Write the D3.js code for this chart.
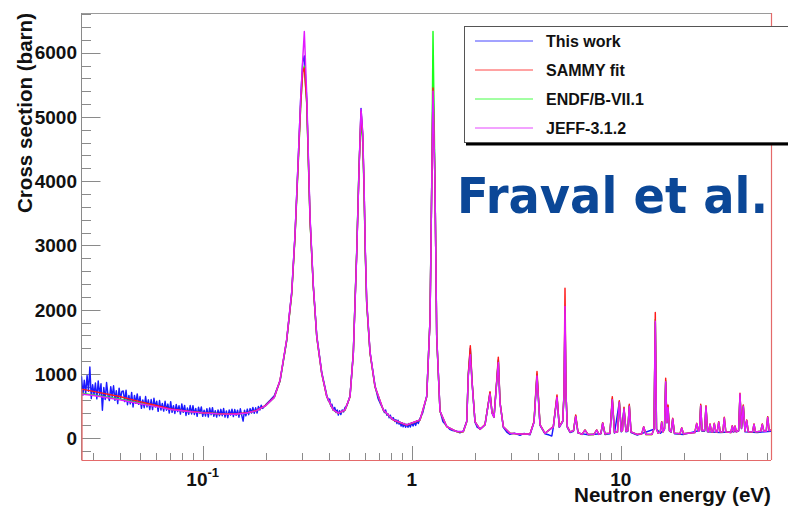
<!DOCTYPE html>
<html>
<head>
<meta charset="utf-8">
<script src="https://cdn.jsdelivr.net/npm/d3@7"></script>
<style>
  html, body { margin: 0; padding: 0; background: #fff; }
  svg { display: block; }
</style>
</head>
<body>
<svg id="chart" width="788" height="506"></svg>
<script>
// ---- Neutron energy grid (eV) shared by the evaluated curves ----
const energy = [
  0.0263, 0.03, 0.04, 0.05, 0.06, 0.07, 0.085, 0.1, 0.12, 0.14, 0.16, 0.18, 0.2, 0.22,
  0.2344, 0.2522, 0.2666, 0.2764, 0.2867, 0.2944, 0.301, 0.3063, 0.3145, 0.3262, 0.3382, 0.3512, 0.371, 0.3921, 0.4214, 0.4455,
  0.4796, 0.5067, 0.5255, 0.5455, 0.5596, 0.5721, 0.5829, 0.5913, 0.5998, 0.609, 0.6318, 0.6674, 0.7311, 0.8166, 0.9464,
  1.0957, 1.1797, 1.2235, 1.2466, 1.2644, 1.2926, 1.317, 1.3658, 1.4707, 1.6418,
  1.7655, 1.8331, 1.8655, 1.9072, 1.9431, 2.0085, 2.1222, 2.2424, 2.3254, 2.3693, 2.4222, 2.4763, 2.5509, 2.5966, 2.6455, 2.7436,
  2.9532, 3.2977, 3.6813, 3.8475, 3.9765, 4.1106, 4.3431, 4.7588, 4.9566, 5.0837, 5.2784, 5.3543, 5.4137, 5.4738, 5.5525, 5.7199,
  5.9457, 6.0911, 6.2471, 6.5283, 6.7484, 6.974, 7.449, 7.6754, 7.8727, 8.0468, 8.2, 8.4103, 8.8862, 9.1146, 9.3374, 9.6535, 9.8469, 10.067,
  10.2, 10.37, 10.602, 10.815, 10.993, 11.202, 11.967, 12.618, 12.882, 13.214, 14.117, 14.43, 14.64, 14.834, 15.082, 15.47, 15.711,
  15.937, 16.201, 16.415, 16.635, 16.835, 17.116, 17.439, 17.73, 18.085, 19.217, 19.583, 19.975, 22.622, 23.1, 23.589, 23.823,
  24.143, 24.49, 25.199, 25.591, 26.02, 26.309, 26.749, 27.222, 27.588, 28.045, 28.514, 28.958, 29.443, 29.936, 30.804, 31.318,
  31.842, 33.634, 34.198, 34.69, 35.23, 35.779, 36.654, 37.224, 37.844, 38.604, 39.332, 40.079, 40.789, 42.719, 43.432, 44.157,
  46.804, 47.587, 48.384, 49.682, 50.503, 51.348, 52.377
];

// ---- Capture cross sections (barn) on the grid above ----
const sammyFit = [
  765, 730, 650, 570, 510, 455, 420, 398, 382, 378, 392, 430, 510, 640,
  900, 1530, 2250, 3140, 4330, 5200, 5700, 5760, 5230, 3400, 2360, 1580, 1010, 650, 440, 390,
  440, 648, 1320, 2880, 4180, 5080, 4700, 3920, 2890, 2110, 1330, 800, 440, 285, 207,
  285, 648, 1840, 3920, 5450, 3920, 1580, 420, 181, 103,
  103, 260, 1000, 1440, 900, 259, 140, 212, 545, 726, 400, 330, 900, 1262, 560, 181,
  78, 66, 66, 260, 1038, 212, 78, 181, 675, 181, 270, 700, 2336, 700, 181, 100,
  120, 363, 90, 60, 130, 60, 60, 130, 60, 80, 243, 70, 80, 648, 90, 100, 586, 110,
  120, 483, 110, 120, 529, 100, 60, 70, 181, 60, 60, 150, 1957, 150, 80, 100, 259,
  100, 150, 934, 250, 519, 120, 100, 311, 80, 70, 165, 70, 90, 233, 110, 130,
  529, 120, 120, 508, 110, 100, 223, 100, 100, 233, 100, 100, 259, 100, 100, 326,
  100, 90, 197, 100, 192, 100, 120, 700, 160, 519, 110, 285, 100, 100, 223, 100,
  110, 223, 110, 110, 337, 120, 130
];

const endf = [
  700, 675, 610, 545, 497, 450, 418, 396, 381, 376, 390, 428, 508, 636,
  895, 1520, 2240, 3120, 4300, 5180, 5720, 5790, 5200, 3380, 2350, 1575, 1005, 648, 438, 388,
  438, 645, 1330, 2920, 4230, 4950, 4600, 3850, 2850, 2090, 1320, 798, 438, 284, 206,
  283, 640, 1850, 4000, 6330, 3980, 1570, 418, 180, 102,
  102, 255, 980, 1360, 880, 255, 138, 210, 535, 700, 395, 326, 880, 1200, 550, 179,
  77, 65, 65, 255, 1000, 210, 77, 179, 650, 180, 265, 680, 1850, 690, 180, 99,
  119, 350, 89, 60, 128, 60, 60, 128, 60, 79, 238, 70, 79, 620, 89, 99, 570, 109,
  119, 470, 109, 119, 515, 99, 60, 70, 178, 60, 60, 148, 1850, 148, 80, 99, 254,
  99, 148, 900, 246, 505, 119, 99, 304, 79, 70, 162, 70, 89, 228, 109, 129,
  515, 119, 119, 495, 109, 99, 218, 99, 99, 228, 99, 99, 253, 99, 99, 318,
  99, 89, 193, 99, 188, 99, 119, 680, 158, 505, 109, 278, 99, 99, 218, 99,
  109, 218, 109, 109, 330, 119, 129
];

const jeff = [
  690, 665, 600, 538, 492, 447, 416, 395, 380, 375, 389, 427, 507, 635,
  905, 1540, 2270, 3170, 4380, 5300, 5900, 6330, 5350, 3450, 2380, 1590, 1015, 652, 441, 391,
  441, 650, 1310, 2860, 4170, 5120, 4760, 3990, 2940, 2140, 1345, 806, 442, 286, 208,
  286, 650, 1830, 3900, 5400, 3940, 1600, 424, 182, 104,
  104, 258, 960, 1300, 870, 256, 139, 211, 530, 690, 392, 325, 860, 1180, 545, 180,
  78, 66, 66, 250, 970, 208, 78, 178, 640, 178, 262, 670, 2050, 680, 179, 100,
  120, 340, 90, 61, 126, 61, 61, 126, 61, 80, 235, 71, 80, 600, 90, 100, 560, 110,
  120, 460, 110, 120, 500, 100, 61, 71, 175, 61, 61, 145, 1820, 146, 81, 100, 250,
  100, 146, 880, 244, 480, 120, 100, 300, 80, 71, 160, 71, 90, 226, 110, 130,
  505, 120, 120, 490, 110, 100, 215, 100, 100, 225, 100, 100, 250, 100, 100, 315,
  100, 90, 190, 100, 186, 100, 120, 690, 158, 500, 110, 275, 100, 100, 215, 100,
  110, 215, 110, 110, 325, 120, 130
];

// ---- Measured data ("This work") ----
// Low-energy time-of-flight bins: equal width in log(E), starting at thisWorkLowStart
const thisWorkLowStart = 0.0263;
const thisWorkBinsPerDecade = 150;
const thisWorkLow = [
  966, 671, 903, 693, 976, 732, 1110, 618, 833, 674,
  860, 613, 892, 675, 848, 437, 790, 603, 867, 665,
  588, 803, 641, 817, 590, 740, 539, 780, 618, 728,
  737, 570, 748, 523, 667, 535, 713, 488, 666, 544,
  690, 528, 649, 465, 597, 476, 650, 487, 598, 446,
  602, 446, 622, 485, 576, 420, 587, 440, 541, 424,
  576, 437, 532, 393, 569, 403, 507, 386, 526, 415,
  506, 376, 534, 404, 511, 355, 471, 374, 509, 379,
  508, 370, 464, 342, 484, 386, 488, 342, 436, 346,
  461, 332, 473, 367, 477, 341, 430, 331, 442, 350,
  450, 351, 463, 329, 426, 321, 439, 361, 452, 339,
  447, 358, 437, 328, 459, 357, 267, 438, 348, 454,
  367, 462, 392, 481, 389, 474, 393, 494, 440, 514, 464
];
// Resonance region: [energy (eV), cross section (barn)]
const thisWorkHigh = [
  [0.2, 520], [0.21, 590], [0.22, 660], [0.2344, 890], [0.2522, 1520], [0.2666, 2280], [0.2764, 3160],
  [0.2867, 4380], [0.2944, 5300], [0.301, 5850], [0.3063, 5950], [0.3145, 5280], [0.3262, 3420],
  [0.3382, 2370], [0.3512, 1600], [0.371, 1030], [0.3921, 670], [0.4, 580], [0.405, 610], [0.41, 500],
  [0.415, 530], [0.4214, 440], [0.428, 480], [0.435, 400], [0.44, 440], [0.4455, 360], [0.452, 430],
  [0.458, 370], [0.465, 440], [0.472, 410], [0.4796, 480], [0.49, 510],
  [0.5067, 660], [0.5255, 1330], [0.5455, 2890], [0.5596, 4200], [0.5721, 5130], [0.5829, 4720],
  [0.5913, 3930], [0.5998, 2900], [0.609, 2120], [0.6318, 1340], [0.6674, 820], [0.69, 620], [0.71, 530],
  [0.7311, 450], [0.74, 400], [0.75, 440], [0.76, 360], [0.77, 380], [0.78, 320], [0.79, 360], [0.8, 300],
  [0.8166, 320], [0.83, 260], [0.84, 290], [0.85, 230], [0.86, 280], [0.87, 220], [0.88, 250], [0.89, 190],
  [0.9, 240], [0.91, 180], [0.92, 230], [0.935, 170], [0.9464, 220], [0.96, 170], [0.97, 230], [0.985, 175],
  [1.0, 240], [1.015, 190], [1.03, 250], [1.045, 200], [1.06, 270], [1.075, 230],
  [1.0957, 310], [1.13, 400], [1.1797, 660], [1.2235, 1850], [1.2466, 3930], [1.2644, 5600], [1.2926, 3930],
  [1.317, 1590], [1.3658, 430], [1.41, 260], [1.4707, 190], [1.52, 140], [1.57, 120], [1.6418, 110],
  [1.7, 85], [1.7655, 115], [1.8331, 265], [1.8655, 990], [1.9072, 1400], [1.9431, 900], [2.0085, 250],
  [2.06, 170], [2.1222, 150], [2.18, 170], [2.2424, 210], [2.3254, 540], [2.3693, 710], [2.4222, 400],
  [2.4763, 330], [2.5509, 880], [2.5966, 1220], [2.6455, 560], [2.7436, 170], [2.85, 95], [2.9532, 60],
  [3.1, 80], [3.2977, 45], [3.45, 75], [3.6813, 55], [3.8475, 250], [3.9765, 980], [4.1106, 200],
  [4.3431, 70], [4.55, 50], [4.68, 35], [4.7588, 170], [4.9566, 640], [5.0837, 170], [5.2784, 260],
  [5.3543, 680], [5.4137, 2000], [5.4738, 680], [5.5525, 170], [5.7199, 90], [5.9457, 110], [6.0911, 340],
  [6.2471, 80], [7.0, 55], [8.0468, 70], [8.2, 230], [8.4103, 60], [8.8862, 70], [9.1146, 600], [9.3374, 80],
  [9.8469, 560], [10.067, 100], [10.37, 460], [10.602, 100], [10.815, 110], [10.993, 500], [11.202, 90],
  [12.0, 50], [14.43, 140], [14.64, 1800], [14.834, 140], [15.5, 80], [16.2, 140], [16.415, 870],
  [16.635, 240], [16.835, 480], [17.116, 110], [17.439, 95], [17.73, 290], [18.085, 70], [20.0, 60],
  [23.823, 120], [24.143, 500], [24.49, 110], [25.199, 110], [25.591, 480], [26.02, 100], [30.0, 90],
  [36.654, 110], [37.224, 660], [37.844, 150], [38.604, 490], [39.332, 100], [45.0, 90], [52.377, 110]
];

// ---- Axes and legend text ----
const energyDomain = [0.0263, 52.38];
const sigmaDomain = [-338, 6617];
const yTickLabels = [0, 1000, 2000, 3000, 4000, 5000, 6000];
const yMinorStep = 200;
const xTickLabels = [
  { value: 0.1, base: "10", exp: "-1" },
  { value: 1, base: "1", exp: "" },
  { value: 10, base: "10", exp: "" }
];
const seriesNames = ["This work", "SAMMY fit", "ENDF/B-VII.1", "JEFF-3.1.2"];
const seriesColors = ["#1a1aff", "#ff1a1a", "#1aff1a", "#e21aff"];

// ---- Build the point sets ----
const thisWorkPoints = thisWorkLow
  .map((v, i) => [thisWorkLowStart * Math.pow(10, i / thisWorkBinsPerDecade), v])
  .concat(thisWorkHigh);
const pairs = vals => energy.map((e, i) => [e, vals[i]]);
const series = [
  { name: seriesNames[0], color: seriesColors[0], points: thisWorkPoints },
  { name: seriesNames[2], color: seriesColors[2], points: pairs(endf) },
  { name: seriesNames[1], color: seriesColors[1], points: pairs(sammyFit) },
  { name: seriesNames[3], color: seriesColors[3], points: pairs(jeff) }
];

// ---- Frame geometry ----
const frameL = 81.5, frameR = 771, frameT = 13, frameB = 460;
const font = "'Liberation Sans', Arial, Helvetica, sans-serif";

const svg = d3.select("#chart");
const x = d3.scaleLog().domain(energyDomain).range([frameL, frameR]);
const y = d3.scaleLinear().domain(sigmaDomain).range([frameB, frameT]);

svg.append("defs").append("clipPath").attr("id", "plot-clip")
  .append("rect").attr("x", frameL).attr("y", frameT)
  .attr("width", frameR - frameL).attr("height", frameB - frameT);

// frame: top edge and left axis line
svg.append("line").attr("x1", frameL).attr("x2", frameR).attr("y1", frameT + 0.5).attr("y2", frameT + 0.5)
  .attr("stroke", "#9a9a9a").attr("stroke-width", 1);
svg.append("line").attr("x1", frameL).attr("x2", frameL).attr("y1", frameT).attr("y2", frameB)
  .attr("stroke", "#8a8a8a").attr("stroke-width", 1);

// y ticks (inside the frame)
const yMinor = d3.range(Math.ceil(sigmaDomain[0] / yMinorStep) * yMinorStep, sigmaDomain[1], yMinorStep);
const gy = svg.append("g");
gy.selectAll("line").data(yMinor).join("line")
  .attr("x1", frameL).attr("x2", d => frameL + (yTickLabels.includes(d) ? 19 : 9.5))
  .attr("y1", d => Math.round(y(d)) + 0.5).attr("y2", d => Math.round(y(d)) + 0.5)
  .attr("stroke", "#8a8a8a").attr("stroke-width", 1);
gy.selectAll("text").data(yTickLabels).join("text")
  .attr("x", 77).attr("y", d => y(d)).attr("dy", "0.36em")
  .attr("text-anchor", "end").attr("font-family", font).attr("font-weight", "bold")
  .attr("font-size", 19).attr("fill", "#111").text(d => d);

// x ticks (log scale, inside the frame)
const isDecade = v => Math.abs(Math.log10(v) - Math.round(Math.log10(v))) < 1e-9;
const gx = svg.append("g");
gx.selectAll("line").data(x.ticks()).join("line")
  .attr("x1", d => Math.round(x(d)) + 0.5).attr("x2", d => Math.round(x(d)) + 0.5)
  .attr("y1", frameB).attr("y2", d => frameB - (isDecade(d) ? 14 : 7))
  .attr("stroke", "#8a8a8a").attr("stroke-width", 1);

// curves
const line = d3.line().x(d => x(d[0])).y(d => y(d[1]));
const gc = svg.append("g").attr("clip-path", "url(#plot-clip)");
gc.selectAll("path").data(series).join("path")
  .attr("d", d => line(d.points))
  .attr("fill", "none").attr("stroke", d => d.color)
  .attr("stroke-width", 1.45).attr("stroke-linejoin", "round");

// red frame edges: left drop of the fit, bottom and right side
const frameRed = "#e46a6a";
svg.append("line").attr("x1", frameL + 0.5).attr("x2", frameL + 0.5)
  .attr("y1", y(sammyFit[0])).attr("y2", frameB)
  .attr("stroke", frameRed).attr("stroke-width", 1.3);
svg.append("line").attr("x1", frameL).attr("x2", frameR).attr("y1", frameB + 0.5).attr("y2", frameB + 0.5)
  .attr("stroke", frameRed).attr("stroke-width", 1.2);
svg.append("line").attr("x1", frameR + 0.5).attr("x2", frameR + 0.5).attr("y1", frameT).attr("y2", frameB)
  .attr("stroke", frameRed).attr("stroke-width", 1.2);

// axis titles (the energy title sits just under the tick labels)
svg.append("text").attr("x", frameR).attr("y", 502).attr("text-anchor", "end")
  .attr("font-family", font).attr("font-weight", "bold").attr("font-size", 20)
  .attr("textLength", 197).attr("lengthAdjust", "spacingAndGlyphs")
  .attr("fill", "#111").text("Neutron energy (eV)");
svg.append("text").attr("transform", `translate(32,${frameT}) rotate(-90)`)
  .attr("text-anchor", "end").attr("font-family", font).attr("font-weight", "bold")
  .attr("font-size", 20).attr("textLength", 200).attr("lengthAdjust", "spacingAndGlyphs")
  .attr("fill", "#111").text("Cross section (barn)");

// x tick labels
const xl = svg.append("g").selectAll("text").data(xTickLabels).join("text")
  .attr("x", d => x(d.value)).attr("y", 486)
  .attr("text-anchor", "middle").attr("font-family", font).attr("font-weight", "bold")
  .attr("font-size", 19).attr("fill", "#111");
xl.append("tspan").text(d => d.base);
xl.filter(d => d.exp).append("tspan").attr("dy", -9).attr("font-size", 13).text(d => d.exp);

// legend
const lg = svg.append("g");
lg.append("rect").attr("x", 466).attr("y", 28).attr("width", 340).attr("height", 117.5).attr("fill", "#000");
lg.append("rect").attr("x", 464.5).attr("y", 26.5).attr("width", 340).attr("height", 116)
  .attr("fill", "#fff").attr("stroke", "#555").attr("stroke-width", 1);
const legendOrder = [0, 1, 2, 3];
const entry = lg.selectAll("g.entry").data(legendOrder).join("g").attr("class", "entry")
  .attr("transform", (d, i) => `translate(0,${41 + i * 29})`);
entry.append("line").attr("x1", 475).attr("x2", 533).attr("y1", 0).attr("y2", 0)
  .attr("stroke", d => seriesColors[d]).attr("stroke-width", 1).attr("opacity", 0.8);
entry.append("text").attr("x", 546).attr("y", 6)
  .attr("font-family", font).attr("font-weight", "bold").attr("font-size", 16)
  .attr("fill", "#111").text(d => seriesNames[d]);

// attribution
svg.append("text").attr("transform", "translate(457,213) scale(1,1.07)")
  .attr("font-family", "'DejaVu Sans', Verdana, sans-serif").attr("font-weight", "bold")
  .attr("font-size", 46.5).attr("textLength", 311).attr("lengthAdjust", "spacingAndGlyphs")
  .attr("fill", "#0b4797").text("Fraval et al.");
</script>
</body>
</html>
